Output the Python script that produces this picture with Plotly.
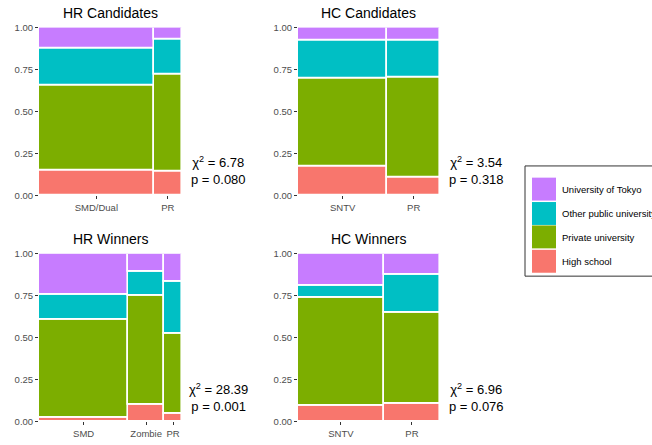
import numpy as np
import plotly.graph_objects as go

W, H = 652, 445

levels = ["High school", "Private university", "Other public university", "University of Tokyo"]
colors = ["#F8766D", "#7CAE00", "#00BFC4", "#C77CFF"]
legend_order = ["University of Tokyo", "Other public university", "Private university", "High school"]

# Panel data: categories, column widths (share of observations), segment shares per level
hr_cand_cats = ["SMD/Dual", "PR"]
hr_cand_widths = [0.802, 0.198]
hr_cand_shares = {
    "High school": [0.150, 0.144],
    "Private university": [0.507, 0.573],
    "Other public university": [0.220, 0.213],
    "University of Tokyo": [0.123, 0.070],
}

hc_cand_cats = ["SNTV", "PR"]
hc_cand_widths = [0.629, 0.371]
hc_cand_shares = {
    "High school": [0.170, 0.107],
    "Private university": [0.528, 0.596],
    "Other public university": [0.226, 0.217],
    "University of Tokyo": [0.076, 0.080],
}

hr_win_cats = ["SMD", "Zombie", "PR"]
hr_win_widths = [0.624, 0.251, 0.125]
hr_win_shares = {
    "High school": [0.023, 0.099, 0.049],
    "Private university": [0.584, 0.648, 0.476],
    "Other public university": [0.146, 0.148, 0.306],
    "University of Tokyo": [0.247, 0.105, 0.169],
}

hc_win_cats = ["SNTV", "PR"]
hc_win_widths = [0.605, 0.395]
hc_win_shares = {
    "High school": [0.095, 0.105],
    "Private university": [0.644, 0.541],
    "Other public university": [0.070, 0.229],
    "University of Tokyo": [0.191, 0.125],
}

titles = ["HR Candidates", "HC Candidates", "HR Winners", "HC Winners"]
chi_vals = ["6.78", "3.54", "28.39", "6.96"]
p_vals = ["0.080", "0.318", "0.001", "0.076"]

panels = [
    (hr_cand_cats, hr_cand_widths, hr_cand_shares),
    (hc_cand_cats, hc_cand_widths, hc_cand_shares),
    (hr_win_cats, hr_win_widths, hr_win_shares),
    (hc_win_cats, hc_win_widths, hc_win_shares),
]

# layout geometry in pixels (left, right, top, bottom)
px_boxes = [
    (39, 182, 22, 194),
    (298, 440, 22, 194),
    (39, 182, 254, 426),
    (298, 440, 254, 426),
]

FONT = "Liberation Sans, Arial, Helvetica, sans-serif"

fig = go.Figure()
layout_axes = {}
annotations = []
shapes = []

for i, ((cats, widths, shares), (l, r, t, b)) in enumerate(zip(panels, px_boxes)):
    n = i + 1
    xa = "x" if n == 1 else f"x{n}"
    ya = "y" if n == 1 else f"y{n}"
    widths = np.array(widths)
    lefts = np.concatenate([[0], np.cumsum(widths)[:-1]])
    centers = lefts + widths / 2
    base = np.zeros(len(cats))
    for lev, col in zip(levels, colors):
        vals = np.array(shares[lev])
        fig.add_trace(go.Bar(
            x=centers, y=vals, base=base.copy(), width=widths,
            marker=dict(color=col, line=dict(color="white", width=1.6)),
            xaxis=xa, yaxis=ya, showlegend=False, name=lev,
        ))
        base = base + vals
    xkey = "xaxis" if n == 1 else f"xaxis{n}"
    ykey = "yaxis" if n == 1 else f"yaxis{n}"
    layout_axes[xkey] = dict(
        domain=[l / W, r / W], anchor=ya, range=[0, 1],
        tickvals=list(centers), ticktext=cats,
        showgrid=False, zeroline=False, showline=False,
        ticks="outside", ticklen=3, tickcolor="#333333", tickwidth=1,
        tickfont=dict(size=9.5, color="#4D4D4D", family=FONT),
        fixedrange=True,
    )
    layout_axes[ykey] = dict(
        domain=[1 - b / H, 1 - t / H], anchor=xa, range=[0, 1],
        tickvals=[0, 0.25, 0.5, 0.75, 1.0],
        ticktext=["0.00", "0.25", "0.50", "0.75", "1.00"],
        showgrid=False, zeroline=False, showline=False,
        ticks="outside", ticklen=3, tickcolor="#333333", tickwidth=1,
        tickfont=dict(size=9.5, color="#4D4D4D", family=FONT),
        fixedrange=True,
    )
    # title
    annotations.append(dict(
        text=titles[i], xref="paper", yref="paper",
        x=(l + r) / 2 / W, y=1 - (t - 5) / H, xanchor="center", yanchor="bottom",
        showarrow=False, font=dict(size=14, color="black", family=FONT),
    ))
    # statistics
    annotations.append(dict(
        text=f"χ<sup>2</sup> = {chi_vals[i]}<br>p = {p_vals[i]}",
        xref="paper", yref="paper",
        x=(r + 36) / W, y=1 - (b - 6) / H, xanchor="center", yanchor="bottom",
        align="center", showarrow=False,
        font=dict(size=13, color="black", family=FONT),
    ))

# manual legend
box_l, box_t, box_b = 525, 164, 277
shapes.append(dict(type="rect", xref="paper", yref="paper",
                   x0=box_l / W, x1=1.05, y0=1 - box_b / H, y1=1 - box_t / H,
                   line=dict(color="#333333", width=1), fillcolor="rgba(0,0,0,0)"))
key_tops = [176, 201, 225, 250]
for lab, kt in zip(legend_order, key_tops):
    col = colors[levels.index(lab)]
    shapes.append(dict(type="rect", xref="paper", yref="paper",
                       x0=532 / W, x1=556 / W, y0=1 - (kt + 23.5) / H, y1=1 - kt / H,
                       line=dict(width=0), fillcolor=col))
    annotations.append(dict(
        text=lab, xref="paper", yref="paper",
        x=560 / W, y=1 - (kt + 12) / H, xanchor="left", yanchor="middle",
        showarrow=False, font=dict(size=9.5, color="black", family=FONT),
    ))

fig.update_layout(
    width=W, height=H,
    margin=dict(l=0, r=0, t=0, b=0),
    paper_bgcolor="white", plot_bgcolor="white",
    barmode="overlay", bargap=0,
    annotations=annotations, shapes=shapes,
    font=dict(family=FONT),
    **layout_axes,
)

fig.write_html(
    "out.html",
    config={"displayModeBar": False},
    post_script="document.body.style.margin='0';document.body.style.overflow='hidden';",
)
